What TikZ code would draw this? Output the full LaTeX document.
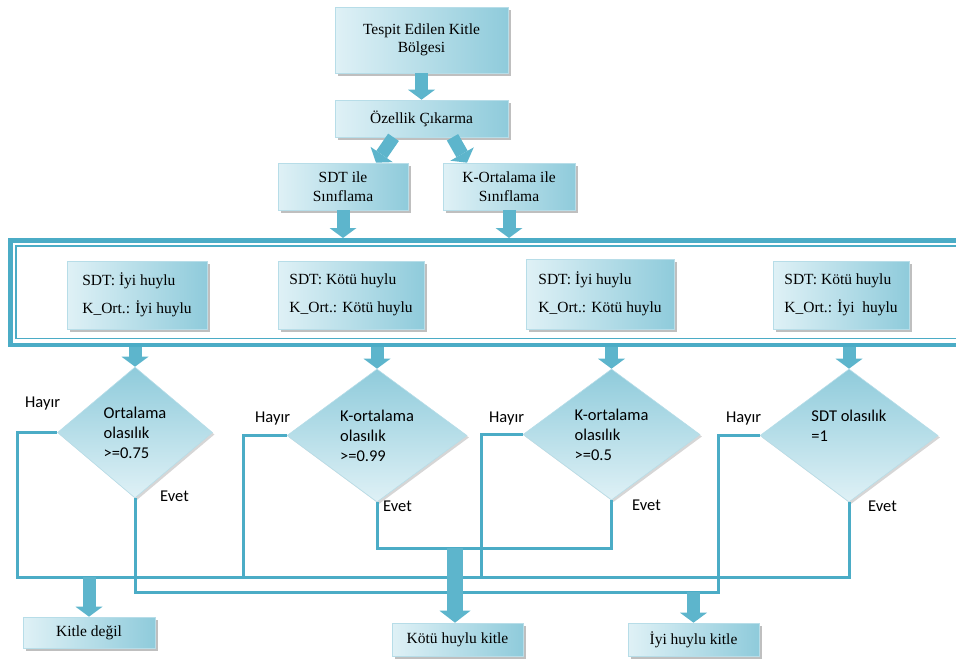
\documentclass[tikz,border=0pt]{standalone}
\usepackage{fontspec}
\setmainfont{Liberation Serif}
\newfontfamily\calfont{Carlito}
\usetikzlibrary{shapes.geometric,shadows,arrows.meta}
\definecolor{boxlight}{HTML}{DFF1F6}
\definecolor{boxdark}{HTML}{8FCBDB}
\definecolor{boxedge}{HTML}{B7DDE8}
\definecolor{linecol}{HTML}{4BACC6}
\definecolor{arrowcol}{HTML}{5DB5CC}

\begin{document}
\begin{tikzpicture}[x=1pt, y=-1pt]
        \tikzstyle{box} = [rectangle, draw=boxedge, line width=0.6pt, left color=boxlight, right color=boxdark, drop shadow={shadow xshift=2.5pt, shadow yshift=-2.5pt, fill=black!50, opacity=0.5}, inner sep=0pt, align=center, font=\fontsize{15.5}{18.5}\selectfont]
        \tikzstyle{rule} = [box, align=left, font=\fontsize{15.5}{28}\selectfont]
        \tikzstyle{test} = [diamond, draw=boxedge, line width=0.6pt, top color=boxdark, bottom color=boxlight, drop shadow={shadow xshift=2pt, shadow yshift=-2pt, fill=black!40, opacity=0.4}, inner sep=0pt, align=left, font=\calfont\fontsize{16.5}{20}\selectfont]
        \tikzstyle{answer} = [anchor=base west, inner sep=0pt, font=\calfont\fontsize{16.5}{20}\selectfont]
        \tikzstyle{flow} = [draw=linecol, line width=3pt]
        \tikzstyle{blockarrow} = [color=arrowcol, line width=13pt, -{Triangle[width=27pt, length=10pt, line width=0pt]}]
        \tikzstyle{wideblockarrow} = [color=arrowcol, line width=16pt, -{Triangle[width=31pt, length=12pt, line width=0pt]}]
        \useasboundingbox (0,0) rectangle (956,659);
        \clip (0,0) rectangle (956,659);

        \draw[draw=linecol, line width=4.5pt] (10.5,240.5) rectangle (990,345);
        \draw[draw=linecol, line width=1.8pt] (16,246) rectangle (990,338.5);
        \coordinate (ft) at (0,238);
        \coordinate (fb) at (0,347);

        \node[box, minimum width=173pt, minimum height=66pt] (1) at (421.5,40) {Tespit Edilen Kitle\\Bölgesi};
        \node[box, minimum width=173pt, minimum height=37pt] (2) at (421.5,118.5) {Özellik Çıkarma};
        \node[box, minimum width=130pt, minimum height=47pt] (3) at (343,186.5) {SDT ile\\Sınıflama};
        \node[box, minimum width=132pt, minimum height=47pt] (4) at (509,186.5) {K-Ortalama ile\\Sınıflama};

        \node[rule, minimum width=140pt, minimum height=68pt] (5) at (137,295) {SDT: İyi huylu\\K\_Ort.: İyi huylu};
        \node[rule, minimum width=146pt, minimum height=68pt] (6) at (351,295) {SDT: Kötü huylu\\K\_Ort.: Kötü huylu};
        \node[rule, minimum width=148pt, minimum height=70pt] (7) at (600,294) {SDT: İyi huylu\\K\_Ort.: Kötü huylu};
        \node[rule, minimum width=136pt, minimum height=68pt] (8) at (841,295) {SDT: Kötü huylu\\K\_Ort.: İyi\ \ huylu};

        \node[test, minimum width=155pt, minimum height=131pt] (9) at (135,432.5) {Ortalama\\olasılık\\>=0.75};
        \node[test, minimum width=180pt, minimum height=133pt] (10) at (377,435.5) {K-ortalama\\olasılık\\>=0.99};
        \node[test, minimum width=177pt, minimum height=131pt] (11) at (611.5,434.5) {K-ortalama\\olasılık\\>=0.5};
        \node[test, minimum width=178pt, minimum height=133pt] (12) at (849,435.5) {SDT olasılık\\=1\\\mbox{}};

        \node[box, minimum width=132pt, minimum height=31pt] (13) at (89,632.5) {Kitle değil};
        \node[box, minimum width=131pt, minimum height=33pt] (14) at (457.5,639.5) {Kötü huylu kitle};
        \node[box, minimum width=131pt, minimum height=33pt] (15) at (693.5,639.5) {İyi huylu kitle};

        \node[answer] (h1) at (25,407) {Hayır};
        \node[answer] (h2) at (255,422) {Hayır};
        \node[answer] (h3) at (489,422) {Hayır};
        \node[answer] (h4) at (726,422) {Hayır};
        \node[answer] (e1) at (160,501) {Evet};
        \node[answer] (e2) at (383,511) {Evet};
        \node[answer] (e3) at (632,510) {Evet};
        \node[answer] (e4) at (868,511) {Evet};

        \coordinate (a) at (17,577);
        \coordinate (b) at (243,577);
        \coordinate (c) at (481,577);
        \coordinate (d) at (718,592);
        \coordinate (e) at (455,548);

        \draw[flow] (9.west) -| (a) -- (12.south |- a) -- (12.south);
        \draw[flow] (10.west) -| (b);
        \draw[flow] (11.west) -| (c);
        \draw[flow] (9.south) |- (d) -- (d |- 12.west) -- (12.west);
        \draw[flow] (10.south) |- (e) -| (11.south);

        \path[blockarrow]
                (1) edge (2)
                ([xshift=-28pt]2.south) edge ([xshift=33pt]3.north)
                ([xshift=31pt]2.south) edge ([xshift=-42pt]4.north)
                (3.south) edge (3.south |- ft)
                (4.south) edge (4.south |- ft)
                (9.north |- fb) edge (9.north)
                (10.north |- fb) edge (10.north)
                (11.north |- fb) edge (11.north)
                (12.north |- fb) edge (12.north)
                (13.north |- a) edge (13.north)
                (15.north |- d) edge (15.north);
        \path[wideblockarrow] (e) edge (e |- 14.north);
\end{tikzpicture}
\end{document}
